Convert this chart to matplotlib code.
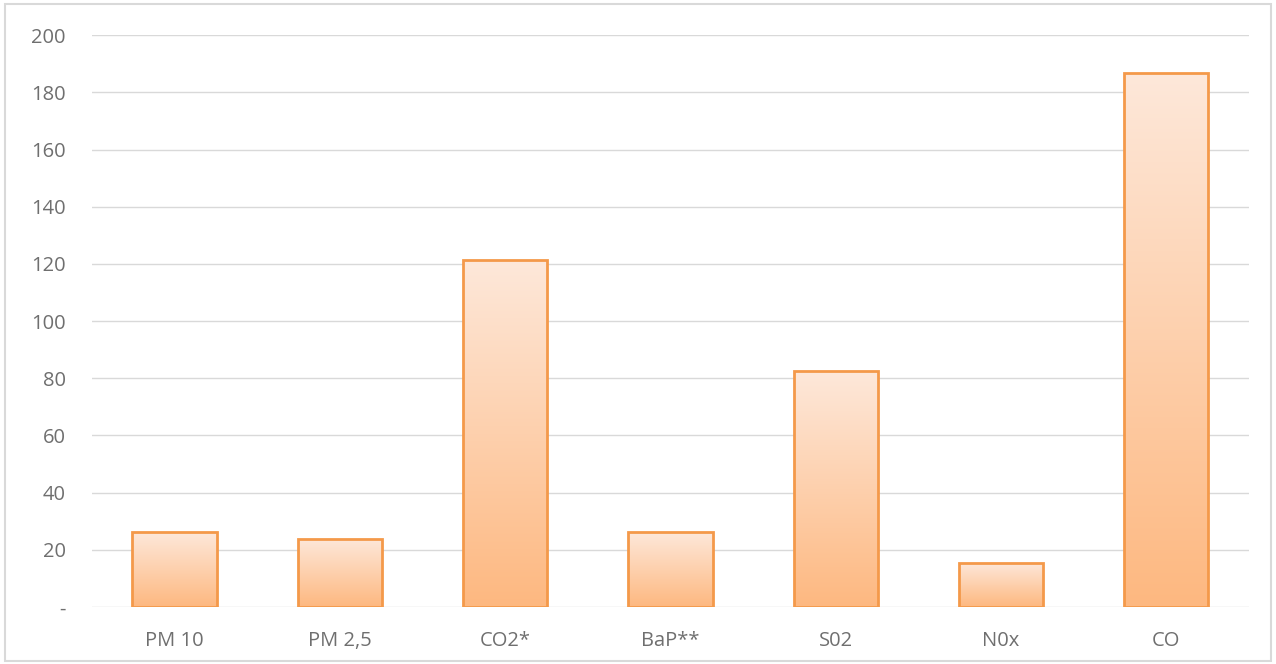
import numpy as np
import matplotlib
matplotlib.use("Agg")
import matplotlib.pyplot as plt
from matplotlib.colors import LinearSegmentedColormap
from matplotlib.patches import Rectangle

categories = ["PM 10", "PM 2,5", "CO2*", "BaP**", "S02", "N0x", "CO"]
values = [26.2, 23.8, 121.3, 26.2, 82.5, 15.4, 186.8]
yticks = [0, 20, 40, 60, 80, 100, 120, 140, 160, 180, 200]
ytick_labels = ["-", "20", "40", "60", "80", "100", "120", "140", "160", "180", "200"]

plt.rcParams['font.family'] = ['Open Sans', 'DejaVu Sans']

fig = plt.figure(figsize=(12.76, 6.64), dpi=100)
fig.patches.append(Rectangle((0.004, 0.004), 0.992, 0.99, transform=fig.transFigure,
                             fill=False, edgecolor='#d9d9d9', linewidth=1.5))
ax = fig.add_axes([0.0721, 0.0858, 0.9067, 0.8612])

x = np.arange(len(categories))
bars = ax.bar(x, values, width=0.51, facecolor='none', edgecolor='#F4994A',
              linewidth=2, zorder=3)

cmap = LinearSegmentedColormap.from_list('g', ['#FDB880', '#FEE8DA'])
grad = np.linspace(0, 1, 256).reshape(-1, 1)
for b in bars:
    x0, w, h = b.get_x(), b.get_width(), b.get_height()
    im = ax.imshow(grad, cmap=cmap, origin='lower', aspect='auto',
                   extent=[x0, x0 + w, 0, h], zorder=2)
    im.set_clip_path(b)

ax.set_xlim(-0.5, len(categories) - 0.5)
ax.set_ylim(0, 200)
ax.set_yticks(yticks)
ax.set_yticklabels(ytick_labels)
ax.set_xticks(x)
ax.set_xticklabels(categories)
ax.grid(axis='y', color='#d9d9d9', linewidth=1, zorder=0)
ax.set_axisbelow(True)
for s in ax.spines.values():
    s.set_visible(False)
ax.tick_params(axis='both', length=0, colors='#6f6f6f', labelsize=14.5)
ax.tick_params(axis='y', pad=19)
ax.tick_params(axis='x', pad=17)
for t in ax.get_yticklabels():
    t.set_horizontalalignment('right')

fig.savefig("out.png", dpi=100)
